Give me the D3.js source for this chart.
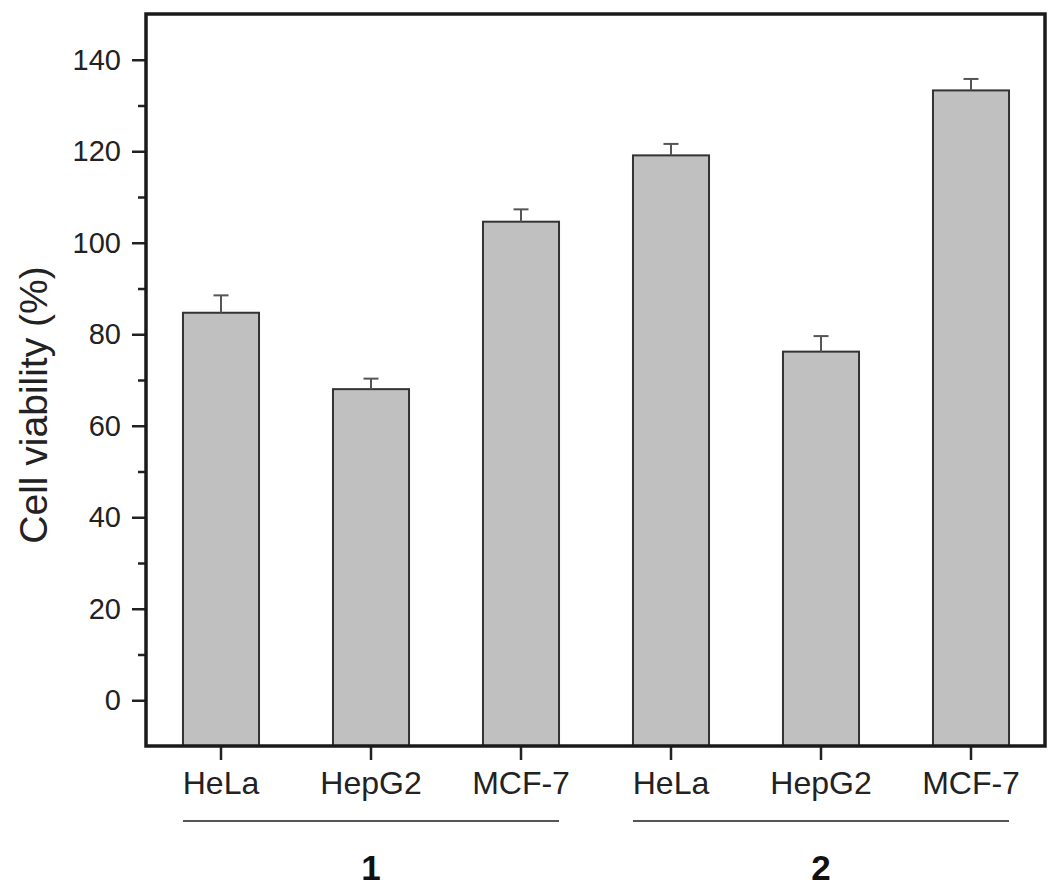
<!DOCTYPE html>
<html><head><meta charset="utf-8">
<script src="https://cdn.jsdelivr.net/npm/d3@7"></script>
<style>body{margin:0;background:#fff}</style>
</head><body>
<svg id="chart" width="1050" height="894"></svg>
<script>
const categories = ["HeLa","HepG2","MCF-7","HeLa","HepG2","MCF-7"];
const groups = ["1","1","1","2","2","2"];
const groupLabels = ["1","2"];
const values = [84.7, 68.0, 104.6, 119.1, 76.2, 133.3];
const errors = [3.8, 2.3, 2.7, 2.5, 3.4, 2.5];
const yTicks = [0,20,40,60,80,100,120,140];
const yMinorTicks = [-10,10,30,50,70,90,110,130,150];

const svg = d3.select("#chart");
const L=146, R=1045, T=14, B=746;
const font = "Liberation Sans, Arial, sans-serif";

const x = d3.scaleBand().domain(d3.range(categories.length)).range([L, R+1]).paddingInner(0.493).paddingOuter(0.2465);
const y = d3.scaleLinear().domain([-10,150]).range([B, T]);

// bars
svg.selectAll("rect.bar").data(values).join("rect")
  .attr("x",(d,i)=>x(i)).attr("width",x.bandwidth())
  .attr("y",d=>y(d)).attr("height",d=>B-y(d))
  .attr("fill","#c0c0c0").attr("stroke","#333").attr("stroke-width",2);

// error bars (upper only)
const eb = svg.append("g").attr("stroke","#555").attr("stroke-width",2);
values.forEach((v,i)=>{
  const cx = x(i)+x.bandwidth()/2;
  eb.append("line").attr("x1",cx).attr("x2",cx).attr("y1",y(v)).attr("y2",y(v+errors[i]));
  eb.append("line").attr("x1",cx-7.5).attr("x2",cx+7.5).attr("y1",y(v+errors[i])).attr("y2",y(v+errors[i]));
});

// y axis
const yAxis = svg.append("g").attr("transform",`translate(${L},0)`)
  .call(d3.axisLeft(y).tickValues(yTicks).tickSize(14).tickPadding(11).tickFormat(d3.format("d")));
yAxis.select(".domain").remove();
yAxis.selectAll(".tick line").attr("stroke","#222").attr("stroke-width",2.5);
yAxis.selectAll("text").attr("font-family",font).attr("font-size",29).attr("fill","#222");
const yMinor = svg.append("g").attr("transform",`translate(${L},0)`)
  .call(d3.axisLeft(y).tickValues(yMinorTicks.filter(d=>d>-10&&d<150)).tickSize(8).tickFormat(""));
yMinor.select(".domain").remove();
yMinor.selectAll(".tick line").attr("stroke","#222").attr("stroke-width",2.5);

// x axis
const xAxis = svg.append("g").attr("transform",`translate(0,${B})`)
  .call(d3.axisBottom(x).tickSize(14).tickPadding(11).tickFormat(i=>categories[i]));
xAxis.select(".domain").remove();
xAxis.selectAll(".tick line").attr("stroke","#222").attr("stroke-width",2.5);
xAxis.selectAll("text").attr("font-family",font).attr("font-size",32).attr("fill","#222");

// frame
svg.append("rect").attr("x",L).attr("y",T).attr("width",R-L).attr("height",B-T)
  .attr("fill","none").attr("stroke","#1a1a1a").attr("stroke-width",3.5);

// group lines and labels
groupLabels.forEach(g=>{
  const idx = d3.range(categories.length).filter(i=>groups[i]===g);
  const x0 = x(idx[0]), x1 = x(idx[idx.length-1])+x.bandwidth();
  svg.append("line").attr("x1",x0).attr("x2",x1).attr("y1",821).attr("y2",821)
    .attr("stroke","#555").attr("stroke-width",2);
  svg.append("text").attr("x",(x0+x1)/2).attr("y",880).attr("text-anchor","middle")
    .attr("font-family",font).attr("font-weight","bold").attr("font-size",35).attr("fill","#111").text(g);
});

// y label
svg.append("text").attr("transform","translate(47,405) rotate(-90)").attr("text-anchor","middle")
  .attr("font-family",font).attr("font-size",39).attr("fill","#222").text("Cell viability (%)");
</script>
</body></html>
